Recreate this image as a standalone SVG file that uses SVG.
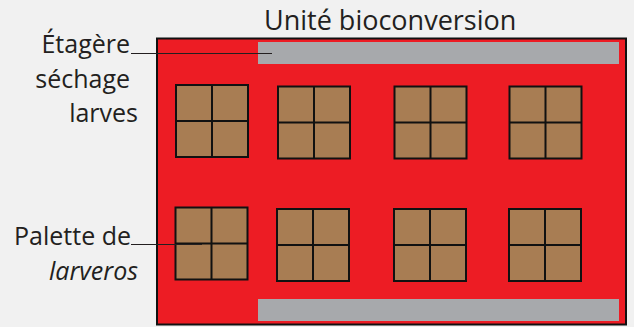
<svg xmlns="http://www.w3.org/2000/svg" width="634" height="327" viewBox="0 0 634 327">
  <style>
    .lbl { font-family: "Open Sans", "Liberation Sans", sans-serif; font-size: 25px; fill: #231f20; }
    .title { font-size: 27px; }
    .it { font-style: italic; }
    .shelf { fill: #a7a9ac; }
    .pal rect { fill: #a87d53; stroke: #111; stroke-width: 2; }
    .pal line { stroke: #111; stroke-width: 2; }
    .lead { stroke: #231f20; stroke-width: 1.2; fill: none; }
  </style>
  <defs>
    <!-- one 2x2 pallet, origin at its top-left corner -->
    <g id="palette" class="pal">
      <rect x="0" y="0" width="72" height="72"/>
      <line x1="36" y1="0" x2="36" y2="72"/>
      <line x1="0" y1="36" x2="72" y2="36"/>
    </g>
  </defs>

  <rect width="634" height="327" fill="#f1f1f1"/>

  <!-- bioconversion unit -->
  <g id="unite">
    <rect x="157" y="38.5" width="469" height="286" fill="#ed1c24" stroke="#111" stroke-width="2"/>
    <text class="lbl title" x="264" y="30">Unité bioconversion</text>
  </g>

  <!-- drying shelves -->
  <g id="etagere-haut"><rect class="shelf" x="258" y="42" width="361" height="22"/></g>
  <g id="etagere-bas"><rect class="shelf" x="258" y="299" width="361" height="22"/></g>

  <!-- larveros pallets -->
  <g id="palette-1"><use href="#palette" x="176" y="85"/></g>
  <g id="palette-2"><use href="#palette" x="278" y="86.5"/></g>
  <g id="palette-3"><use href="#palette" x="394.5" y="86.5"/></g>
  <g id="palette-4"><use href="#palette" x="509.5" y="86.5"/></g>
  <g id="palette-5"><use href="#palette" x="175.5" y="207.5"/></g>
  <g id="palette-6"><use href="#palette" x="277" y="209"/></g>
  <g id="palette-7"><use href="#palette" x="394" y="209"/></g>
  <g id="palette-8"><use href="#palette" x="509" y="209"/></g>

  <!-- labels -->
  <g id="label-etagere">
    <text class="lbl" x="130" y="53" text-anchor="end">Étagère</text>
    <text class="lbl" x="130" y="88" text-anchor="end">séchage</text>
    <text class="lbl" x="138" y="122" text-anchor="end">larves</text>
  </g>
  <g id="label-palette">
    <text class="lbl" x="131" y="245" text-anchor="end">Palette de</text>
    <text class="lbl it" x="138" y="280" text-anchor="end">larveros</text>
  </g>

  <!-- leader lines -->
  <g id="connectors">
    <line class="lead" x1="131" y1="53.5" x2="272" y2="53.5"/>
    <line class="lead" x1="131" y1="244.5" x2="202" y2="244.5"/>
  </g>
</svg>
